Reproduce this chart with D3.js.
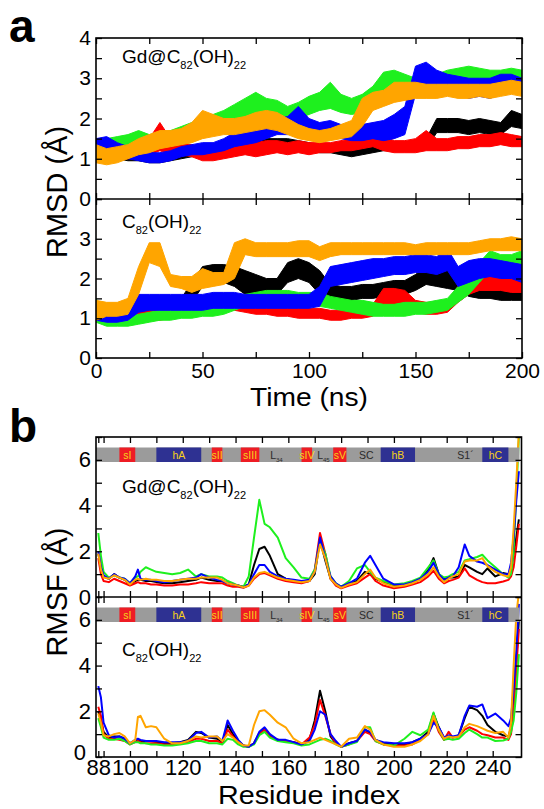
<!DOCTYPE html>
<html>
<head>
<meta charset="utf-8">
<script src="https://cdn.jsdelivr.net/npm/d3@7"></script>
<style>
body { margin: 0; background: #fff; }
text { font-family: "Liberation Sans", Arial, Helvetica, sans-serif; }
</style>
</head>
<body>
<div id="chart"></div>
<script>
// ---- panel a: RMSD traces, band [low, high] read every 5 ns ----
var times = [0,5,10,15,20,25,30,35,40,45,50,55,60,65,70,75,80,85,90,95,100,105,110,115,120,125,130,135,140,145,150,155,160,165,170,175,180,185,190,195,200];

var gdBlack = [[1.0,1.4],[1.0,1.35],[1.0,1.35],[0.95,1.3],[0.95,1.25],[0.9,1.15],[0.9,1.1],[0.95,1.15],[1.0,1.2],[1.05,1.25],[1.1,1.3],[1.15,1.35],[1.2,1.45],[1.25,1.5],[1.3,1.55],[1.3,1.55],[1.3,1.5],[1.3,1.5],[1.3,1.5],[1.25,1.45],[1.2,1.4],[1.15,1.35],[1.15,1.35],[1.1,1.3],[1.05,1.3],[1.1,1.35],[1.15,1.35],[1.2,1.4],[1.2,1.4],[1.2,1.4],[1.2,1.45],[1.25,1.5],[1.65,2.0],[1.65,2.0],[1.65,2.0],[1.6,1.95],[1.65,2.0],[1.6,1.95],[1.6,1.9],[1.8,2.2],[1.75,2.1]];
var gdRed = [[1.0,1.4],[0.95,1.3],[1.0,1.3],[1.0,1.35],[1.05,1.4],[1.1,1.5],[1.2,1.9],[1.1,1.5],[1.1,1.4],[1.05,1.35],[0.95,1.25],[0.95,1.3],[1.0,1.35],[1.05,1.4],[1.1,1.45],[1.05,1.4],[1.1,1.45],[1.15,1.45],[1.1,1.4],[1.15,1.45],[1.1,1.4],[1.15,1.4],[1.15,1.4],[1.2,1.45],[1.2,1.5],[1.25,1.55],[1.3,1.9],[1.2,1.55],[1.15,1.45],[1.15,1.45],[1.15,1.5],[1.2,1.7],[1.2,1.5],[1.2,1.5],[1.25,1.55],[1.25,1.55],[1.3,1.6],[1.3,1.6],[1.35,1.65],[1.3,1.6],[1.3,1.55]];
var gdGreen = [[1.1,1.5],[1.15,1.5],[1.2,1.55],[1.3,1.6],[1.35,1.7],[1.3,1.6],[1.35,1.65],[1.4,1.7],[1.45,1.8],[1.55,1.9],[1.6,2.0],[1.7,2.1],[1.8,2.2],[1.95,2.35],[2.05,2.5],[2.15,2.65],[2.0,2.5],[1.95,2.45],[1.9,2.3],[2.0,2.4],[2.1,2.55],[2.2,2.65],[2.25,2.9],[2.15,2.6],[2.1,2.5],[2.15,2.6],[2.3,2.8],[2.6,3.15],[2.7,3.2],[2.6,3.1],[2.55,3.0],[2.6,3.05],[2.65,3.1],[2.7,3.2],[2.75,3.25],[2.8,3.3],[2.75,3.25],[2.7,3.2],[2.7,3.2],[2.75,3.25],[2.8,3.2]];
var gdBlue = [[1.1,1.5],[1.2,1.55],[1.05,1.4],[1.0,1.3],[0.95,1.25],[0.9,1.15],[0.9,1.15],[0.95,1.2],[1.05,1.3],[1.1,1.35],[1.1,1.4],[1.15,1.4],[1.2,1.5],[1.3,1.65],[1.35,1.7],[1.4,1.75],[1.5,1.9],[1.6,2.0],[1.6,2.05],[1.75,2.3],[1.6,2.0],[1.5,1.9],[1.55,1.95],[1.5,1.85],[1.45,1.8],[1.45,1.85],[1.5,1.9],[1.45,1.95],[1.5,2.1],[1.6,2.3],[2.6,3.3],[2.7,3.4],[2.7,3.2],[2.6,3.1],[2.6,3.05],[2.5,3.0],[2.55,3.0],[2.5,3.0],[2.6,3.1],[2.7,3.1],[2.7,3.0]];
var gdOrange = [[0.9,1.35],[0.85,1.25],[0.9,1.3],[1.0,1.35],[1.1,1.5],[1.15,1.6],[1.25,1.7],[1.3,1.7],[1.35,1.75],[1.4,1.9],[1.5,2.2],[1.55,2.1],[1.6,2.0],[1.6,2.0],[1.65,2.05],[1.7,2.15],[1.75,2.2],[1.7,2.15],[1.6,2.0],[1.5,1.85],[1.45,1.75],[1.4,1.7],[1.45,1.75],[1.5,1.85],[1.55,1.95],[1.8,2.5],[2.2,2.65],[2.3,2.7],[2.4,2.9],[2.45,2.9],[2.5,2.9],[2.5,2.85],[2.5,2.85],[2.55,2.85],[2.5,2.85],[2.5,2.85],[2.55,2.85],[2.5,2.85],[2.55,2.9],[2.6,2.95],[2.55,2.9]];

var cBlack = [[1.0,1.4],[0.95,1.3],[0.95,1.25],[0.95,1.25],[1.0,1.3],[1.0,1.3],[1.0,1.3],[1.1,1.4],[1.2,1.5],[1.4,1.9],[1.8,2.3],[1.9,2.35],[1.9,2.35],[1.8,2.3],[1.6,2.2],[1.6,2.1],[1.55,2.0],[1.6,2.0],[1.9,2.4],[2.0,2.5],[1.9,2.4],[1.6,2.2],[1.5,1.85],[1.45,1.8],[1.45,1.8],[1.5,1.85],[1.5,1.85],[1.55,1.9],[1.6,1.95],[1.6,1.95],[1.7,2.1],[1.85,2.3],[1.8,2.25],[1.75,2.2],[1.7,2.1],[1.55,1.9],[1.5,1.8],[1.5,1.8],[1.45,1.75],[1.45,1.75],[1.45,1.75]];
var cRed = [[0.95,1.35],[0.9,1.25],[0.9,1.2],[0.9,1.2],[0.9,1.15],[0.95,1.2],[0.95,1.2],[1.0,1.25],[1.05,1.3],[1.1,1.4],[1.2,1.55],[1.2,1.5],[1.2,1.5],[1.2,1.55],[1.15,1.45],[1.1,1.4],[1.1,1.35],[1.05,1.3],[1.05,1.3],[1.0,1.3],[1.0,1.25],[1.0,1.25],[0.95,1.2],[0.95,1.2],[1.0,1.25],[1.0,1.25],[1.05,1.35],[1.35,1.75],[1.35,1.75],[1.3,1.7],[1.15,1.45],[1.1,1.4],[1.1,1.4],[1.15,1.45],[1.4,1.8],[1.6,2.0],[1.7,2.05],[1.7,2.1],[1.7,2.1],[1.65,2.0],[1.65,2.0]];
var cGreen = [[0.9,1.5],[0.8,1.05],[0.8,1.05],[0.8,1.05],[0.85,1.1],[0.9,1.15],[0.95,1.2],[0.95,1.2],[1.0,1.25],[1.0,1.25],[1.05,1.3],[1.05,1.35],[1.1,1.4],[1.2,1.5],[1.3,1.6],[1.3,1.65],[1.35,1.7],[1.35,1.7],[1.35,1.7],[1.3,1.65],[1.35,1.65],[1.3,1.65],[1.25,1.55],[1.2,1.5],[1.15,1.45],[1.1,1.45],[1.05,1.4],[1.05,1.35],[1.05,1.35],[1.05,1.4],[1.1,1.4],[1.1,1.4],[1.15,1.45],[1.2,1.5],[1.4,1.8],[1.6,2.0],[1.9,2.4],[2.2,2.7],[2.1,2.6],[2.1,2.6],[2.2,2.7]];
var cBlue = [[0.95,1.4],[0.9,1.25],[0.9,1.25],[0.95,1.3],[1.15,1.6],[1.2,1.6],[1.2,1.6],[1.2,1.6],[1.2,1.6],[1.2,1.6],[1.2,1.6],[1.25,1.65],[1.25,1.65],[1.25,1.65],[1.25,1.6],[1.25,1.6],[1.25,1.6],[1.25,1.6],[1.25,1.6],[1.25,1.6],[1.25,1.6],[1.3,1.8],[1.8,2.3],[1.85,2.35],[1.9,2.4],[1.95,2.45],[2.0,2.5],[2.05,2.5],[2.1,2.55],[2.1,2.55],[2.15,2.6],[2.15,2.6],[2.1,2.55],[2.2,2.75],[1.8,2.3],[1.9,2.45],[2.0,2.5],[2.05,2.5],[2.0,2.45],[2.0,2.4],[1.9,2.35]];
var cOrange = [[0.95,1.45],[1.05,1.4],[1.05,1.4],[1.1,1.5],[1.6,2.3],[2.4,2.9],[2.3,2.9],[1.8,2.1],[1.75,2.05],[1.65,2.05],[1.75,2.25],[1.8,2.15],[1.85,2.15],[2.0,2.9],[2.6,3.0],[2.55,2.9],[2.55,2.9],[2.55,2.9],[2.55,2.9],[2.55,2.95],[2.55,2.95],[2.45,2.8],[2.55,2.9],[2.6,2.9],[2.6,2.9],[2.6,2.9],[2.6,2.9],[2.6,2.9],[2.6,2.9],[2.6,2.9],[2.6,2.85],[2.6,2.9],[2.6,2.9],[2.6,2.9],[2.6,2.9],[2.6,2.9],[2.65,2.95],[2.7,3.0],[2.7,3.0],[2.7,3.05],[2.7,3.0]];

// ---- panel b: RMSF per residue ----
var residues = [88,89,90,92,94,96,98,100, 102,103,104,106,108,110, 113,116,119,122,125,127,130, 133,135,137,139,141,143,145, 147,149,151,153,156,159,162, 165,168,170,172,174,176,178, 180,183,186,189,191,193,196, 200,204,207,210,213,215,217, 219,221,223,226,229,231,234, 236,238,241,244,246,247,248, 249,250];

var gdRmsfBlack = [1.9,1.3,0.9,0.8,1.0,0.85,0.75,0.55, 0.7,0.75,0.75,0.7,0.7,0.65, 0.6,0.6,0.65,0.7,0.75,0.85,0.75, 0.7,0.7,0.6,0.55,0.5,0.45,0.55, 1.4,2.1,2.2,1.8,1.0,0.8,0.7, 0.65,0.7,1.0,2.5,1.6,0.8,0.55, 0.45,0.6,0.7,1.1,1.0,0.8,0.65, 0.5,0.55,0.65,0.8,1.2,1.7,1.0, 0.8,0.85,0.85,0.9,1.4,1.3,1.1, 1.0,1.25,0.9,1.05,1.0,1.2,1.9, 2.6,3.4];
var gdRmsfRed = [1.7,1.0,0.7,0.65,0.8,0.7,0.6,0.5, 0.6,0.65,0.6,0.6,0.55,0.55, 0.5,0.5,0.55,0.55,0.6,0.65,0.6, 0.6,0.6,0.5,0.45,0.45,0.4,0.5, 0.8,1.0,1.05,0.95,0.8,0.7,0.65, 0.6,0.7,1.2,2.8,1.9,0.8,0.5, 0.38,0.5,0.6,0.85,1.0,0.7,0.5, 0.38,0.45,0.55,0.65,0.9,1.15,0.8, 0.6,0.7,0.75,0.85,1.25,0.95,0.75, 0.65,0.6,0.6,0.68,0.75,0.9,1.3, 2.2,3.2];
var gdRmsfGreen = [2.8,1.8,1.1,0.85,0.95,0.85,0.8,0.6, 0.85,0.9,1.1,1.3,1.2,1.1, 1.05,1.0,1.05,1.2,0.9,1.0,0.9, 0.9,0.85,0.7,0.6,0.5,0.45,0.9, 2.6,4.25,3.2,3.05,2.6,1.7,1.3, 0.85,0.8,1.2,2.45,1.9,0.9,0.6, 0.45,0.7,1.25,1.4,1.1,0.85,0.7, 0.55,0.6,0.7,0.85,1.3,1.6,1.0, 0.85,0.9,1.0,1.1,1.6,1.65,1.75, 1.85,1.6,1.3,1.0,0.85,1.0,2.0, 4.5,7.0];
var gdRmsfBlue = [2.0,1.3,0.95,0.8,1.0,0.85,0.8,0.6, 0.9,1.2,0.8,0.75,0.75,0.7, 0.65,0.7,0.75,0.8,0.85,1.0,0.85, 0.75,0.7,0.6,0.55,0.5,0.42,0.55, 1.0,1.4,1.4,1.1,0.9,0.8,0.75, 0.7,0.75,1.1,2.6,1.7,0.9,0.6, 0.45,0.6,0.8,1.5,1.8,1.4,0.8, 0.55,0.55,0.65,0.8,1.1,1.5,1.0, 0.75,0.85,0.9,1.3,2.3,1.8,1.55, 1.5,1.4,1.2,1.0,1.0,1.5,2.6, 4.2,5.5];
var gdRmsfOrange = [1.9,1.2,0.85,0.8,0.95,0.85,0.75,0.55, 0.75,0.8,0.75,0.8,0.75,0.75, 0.7,0.7,0.75,0.8,0.8,0.85,0.85, 0.85,0.75,0.6,0.55,0.5,0.42,0.5, 0.85,1.05,1.1,1.0,0.85,0.75,0.7, 0.65,0.7,1.1,2.3,1.7,0.8,0.55, 0.4,0.55,0.65,1.0,1.2,0.85,0.6, 0.45,0.5,0.6,0.75,1.0,1.3,0.9, 0.65,0.8,0.9,1.0,1.55,1.6,1.6, 1.7,1.35,1.1,0.95,0.9,1.3,3.0, 5.0,7.2];

var cRmsfBlack = [2.0,1.6,1.1,0.85,0.9,0.9,0.8,0.6, 0.7,0.75,0.7,0.7,0.7,0.65, 0.6,0.6,0.65,0.75,1.1,1.05,0.85, 0.8,0.65,1.4,1.0,0.7,0.5,0.45, 0.6,1.05,1.25,0.95,0.75,0.7,0.65, 0.55,0.75,1.6,2.9,2.0,0.9,0.6, 0.45,0.6,0.7,1.2,1.05,0.75,0.6, 0.55,0.55,0.65,0.8,1.1,1.9,1.3, 0.8,0.9,0.85,0.95,1.7,2.2,2.05, 1.8,1.4,1.1,0.95,0.9,1.3,2.6, 4.2,6.0];
var cRmsfRed = [2.2,1.8,1.0,0.8,0.8,0.75,0.7,0.55, 0.65,0.7,0.65,0.6,0.6,0.6, 0.55,0.55,0.6,0.65,0.8,0.8,0.7, 0.7,0.6,1.2,0.9,0.65,0.5,0.45, 0.6,1.0,1.2,0.9,0.75,0.7,0.65, 0.55,0.85,1.4,2.5,1.8,1.0,0.6, 0.45,0.55,0.7,1.1,1.0,0.7,0.55, 0.5,0.5,0.55,0.75,1.0,1.7,1.1, 0.75,1.1,0.85,0.9,1.2,1.3,1.15, 1.0,0.95,0.85,0.85,0.75,1.0,2.0, 3.8,5.6];
var cRmsfGreen = [1.7,1.3,0.85,0.75,0.75,0.8,0.7,0.55, 0.65,0.65,0.6,0.6,0.55,0.55, 0.5,0.5,0.55,0.6,0.7,0.7,0.6, 0.6,0.55,0.8,0.75,0.55,0.45,0.45, 0.55,0.95,1.1,0.85,0.7,0.65,0.6, 0.5,0.55,0.65,0.75,0.8,0.7,0.55, 0.45,0.55,0.65,1.3,1.3,0.7,0.55, 0.5,0.8,1.1,0.95,1.2,1.95,1.2, 0.75,0.8,0.75,0.8,1.05,1.2,1.0, 0.85,0.85,0.7,0.72,0.8,1.1,1.6, 2.8,4.5];
var cRmsfBlue = [3.1,2.6,1.5,0.95,0.85,0.9,0.8,0.6, 0.75,0.8,0.75,0.7,0.7,0.7, 0.65,0.65,0.65,0.7,1.05,1.1,0.85, 0.9,0.7,1.6,1.15,0.75,0.5,0.45, 0.6,1.1,1.3,1.0,0.75,0.75,0.65, 0.55,0.7,1.2,2.0,1.85,1.0,0.7, 0.45,0.6,0.7,1.2,1.1,0.75,0.65, 0.6,0.6,0.65,0.8,1.0,1.5,1.3, 0.85,0.95,0.9,0.95,1.8,2.25,2.2, 2.3,1.7,1.9,1.6,1.35,1.7,3.0, 4.6,6.7];
var cRmsfOrange = [1.9,1.5,0.95,0.9,1.0,1.05,0.9,0.6, 0.75,1.75,1.8,1.3,1.35,1.3, 0.8,0.6,0.6,0.7,0.9,0.85,0.9, 0.9,0.7,1.0,0.85,0.65,0.5,0.5, 1.4,2.0,2.05,1.85,1.5,1.3,0.8, 0.6,0.65,0.75,0.85,0.75,0.65,0.55, 0.45,0.8,0.85,1.35,1.2,0.75,0.55, 0.45,0.45,0.55,0.7,1.0,1.8,1.2, 0.8,0.9,0.85,0.9,1.3,1.45,1.35, 1.25,1.15,1.05,1.1,0.85,1.5,4.0, 6.2,7.2];

// secondary structure along the sequence
var ssNames = ['sI', 'hA', 'sII', 'sIII', 'sIV', 'sV', 'hB', 'hC'];
var ssStart = [96, 110, 131, 142, 165, 177, 195, 236];
var ssEnd = [102, 127, 135, 149, 169, 182, 208, 246];
var ssKind = ['strand', 'helix', 'strand', 'strand', 'strand', 'strand', 'helix', 'helix'];
var loopNames = [['L', '34'], ['L', '45'], ['SC', ''], ['S1\u00b4', '']];
var loopAt = [155.5, 173.3, 189.5, 229.4];

// ticks
var timeTicks = [0,25,50,75,100,125,150,175,200];
var rmsdTicks = [0,0.5,1,1.5,2,2.5,3,3.5,4];
var resTicks = [88,90,100,110,120,130,140,150,160,170,180,190,200,210,220,230,240];
var resLabels = [88,100,120,140,160,180,200,220,240];
var rmsfTicks = [0,1,2,3,4,5,6,7];

var colors = ['#000000', '#ff0000', '#1ef01e', '#0000ff', '#ffa500'];
var FONT = '"Liberation Sans", Arial, Helvetica, sans-serif';

var svg = d3.select('#chart').append('svg')
    .attr('width', 544).attr('height', 809)
    .style('background', '#fff');

var xA = d3.scaleLinear().domain([0, 200]).range([96, 522]);
var yA1 = d3.scaleLinear().domain([0, 4]).range([199, 38]);
var yA2 = d3.scaleLinear().domain([0, 4]).range([358, 199]);

var xB = d3.scaleLinear().domain([87.13, 220, 230, 240, 251]).range([96, 446.7, 466.7, 492.7, 521.5]);
var yB1 = d3.scaleLinear().domain([0, 7]).range([597, 437]);
var yB2 = d3.scaleLinear().domain([0, 7]).range([757, 597]);

var clipN = 0;
function clipFor(x, y) {
    var id = 'clip' + (clipN++);
    svg.append('clipPath').attr('id', id).append('rect')
        .attr('x', x.range()[0]).attr('y', y.range()[1])
        .attr('width', x.range()[x.range().length - 1] - x.range()[0])
        .attr('height', y.range()[0] - y.range()[1]);
    return 'url(#' + id + ')';
}

function drawBands(seriesList, x, y) {
    var g = svg.append('g').attr('clip-path', clipFor(x, y));
    var area = d3.area()
        .x(function(d, i) { return x(times[i]); })
        .y0(function(d) { return y(d[0]); })
        .y1(function(d) { return y(d[1]); });
    seriesList.forEach(function(s, k) {
        g.append('path').datum(s)
            .attr('d', area)
            .attr('fill', colors[k])
            .attr('stroke', colors[k])
            .attr('stroke-width', 1);
    });
}

function drawLines(seriesList, x, y) {
    var g = svg.append('g').attr('clip-path', clipFor(x, y));
    var line = d3.line()
        .x(function(d, i) { return x(residues[i]); })
        .y(function(d) { return y(d); });
    seriesList.forEach(function(s, k) {
        g.append('path').datum(s)
            .attr('d', line)
            .attr('fill', 'none')
            .attr('stroke', colors[k])
            .attr('stroke-width', 2)
            .attr('stroke-linejoin', 'round');
    });
}

function addAxis(axis, tx, ty, fs) {
    var g = svg.append('g').attr('transform', 'translate(' + tx + ',' + ty + ')').call(axis);
    g.select('.domain').remove();
    g.attr('font-family', FONT).attr('font-size', fs);
    g.selectAll('.tick line').attr('stroke', '#000').attr('stroke-width', 1.3);
    g.selectAll('.tick text').attr('fill', '#000');
    return g;
}

function blank() { return ''; }

function frame(x, y, midY) {
    var x0 = x.range()[0], x1 = x.range()[x.range().length - 1];
    svg.append('rect')
        .attr('x', x0).attr('y', y)
        .attr('width', x1 - x0).attr('height', midY - y)
        .attr('fill', 'none').attr('stroke', '#000').attr('stroke-width', 1.6);
}

function formula(x, y, parts, fs, color) {
    var t = svg.append('text').attr('x', x).attr('y', y)
        .attr('font-size', fs).attr('fill', color || '#000');
    var shift = 0;
    parts.forEach(function(p) {
        if (!p[0]) return;
        var sub = p[1];
        var target = sub ? fs * 0.3 : 0;
        t.append('tspan')
            .attr('dy', target - shift)
            .attr('font-size', sub ? fs * 0.58 : fs)
            .text(p[0]);
        shift = target;
    });
    return t;
}

// ===== panel a =====
drawBands([gdBlack, gdRed, gdGreen, gdBlue, gdOrange], xA, yA1);
drawBands([cBlack, cRed, cGreen, cBlue, cOrange], xA, yA2);

addAxis(d3.axisLeft(yA1).tickValues(rmsdTicks).tickSize(-6).tickPadding(5)
    .tickFormat(function(d) { return d % 1 === 0 ? d : ''; }), 96, 0, 21);
addAxis(d3.axisRight(yA1).tickValues(rmsdTicks).tickSize(-6).tickFormat(blank), 522, 0, 21);
addAxis(d3.axisLeft(yA2).tickValues(rmsdTicks).tickSize(-6).tickPadding(5)
    .tickFormat(function(d) { return d % 1 === 0 && d < 4 ? d : ''; }), 96, 0, 21);
addAxis(d3.axisRight(yA2).tickValues(rmsdTicks).tickSize(-6).tickFormat(blank), 522, 0, 21);
addAxis(d3.axisTop(xA).tickValues(timeTicks).tickSize(-6).tickFormat(blank), 0, 38, 21);
addAxis(d3.axisBottom(xA).tickValues(timeTicks).tickSize(-6).tickFormat(blank), 0, 199, 21);
addAxis(d3.axisTop(xA).tickValues(timeTicks).tickSize(-6).tickFormat(blank), 0, 199, 21);
addAxis(d3.axisBottom(xA).tickValues(timeTicks).tickSize(-6).tickPadding(5)
    .tickFormat(function(d) { return d % 50 === 0 ? d : ''; }), 0, 358, 21);

frame(xA, 38, 358);
svg.append('line').attr('x1', 96).attr('x2', 522).attr('y1', 199).attr('y2', 199)
    .attr('stroke', '#000').attr('stroke-width', 1.6);

formula(122, 63, [['Gd@C', 0], ['82', 1], ['(OH)', 0], ['22', 1]], 19);
formula(122, 228, [['C', 0], ['82', 1], ['(OH)', 0], ['22', 1]], 19);

svg.append('text').attr('transform', 'translate(67,192) rotate(-90)')
    .attr('text-anchor', 'middle').attr('font-size', 29).text('RMSD (\u00c5)');
svg.append('text').attr('x', 309).attr('y', 406)
    .attr('text-anchor', 'middle').attr('font-size', 26)
    .attr('textLength', 118).attr('lengthAdjust', 'spacingAndGlyphs')
    .text('Time (ns)');
svg.append('text').attr('x', 9).attr('y', 42)
    .attr('font-size', 46).attr('font-weight', 'bold').text('a');

// ===== panel b =====
function ssBar(y) {
    var top = y.range()[1] + 10.5, h = 14.5;
    var x0 = xB.range()[0], x1 = xB.range()[xB.range().length - 1];
    var g = svg.append('g');
    g.append('rect').attr('x', x0).attr('y', top).attr('width', x1 - x0 - 2).attr('height', h)
        .attr('fill', '#9b9b9b');
    ssNames.forEach(function(name, i) {
        var a = xB(ssStart[i]), b = xB(ssEnd[i]);
        g.append('rect').attr('x', a).attr('y', top).attr('width', b - a).attr('height', h)
            .attr('fill', ssKind[i] === 'helix' ? '#2e3192' : '#ee1c24');
        g.append('text').attr('x', (a + b) / 2).attr('y', top + h / 2 + 4)
            .attr('text-anchor', 'middle').attr('font-size', 10.5)
            .attr('fill', '#f6d31a').text(name);
    });
    loopNames.forEach(function(p, i) {
        var t = formula(xB(loopAt[i]), top + h / 2 + 4, [[p[0], 0], [p[1], 1]], 10.5, '#2a2a2a');
        t.attr('text-anchor', 'middle');
    });
}

drawLines([gdRmsfBlack, gdRmsfRed, gdRmsfGreen, gdRmsfBlue, gdRmsfOrange], xB, yB1);
drawLines([cRmsfBlack, cRmsfRed, cRmsfGreen, cRmsfBlue, cRmsfOrange], xB, yB2);
ssBar(yB1);
ssBar(yB2);

var xbR = xB.range()[xB.range().length - 1];
addAxis(d3.axisLeft(yB1).tickValues(rmsfTicks).tickSize(-6).tickPadding(5)
    .tickFormat(function(d) { return d % 2 === 0 ? d : ''; }), 96, 0, 22);
addAxis(d3.axisRight(yB1).tickValues(rmsfTicks).tickSize(-6).tickFormat(blank), xbR, 0, 22);
var lowLeft = addAxis(d3.axisLeft(yB2).tickValues(rmsfTicks).tickSize(-6).tickPadding(5)
    .tickFormat(function(d) { return d % 2 === 0 ? d : ''; }), 96, 0, 22);
// nudge the bottom "0" so it clears the "88" next to it
lowLeft.selectAll('.tick text').filter(function(d) { return d === 0; })
    .attr('x', -10).attr('dy', '0.12em');
addAxis(d3.axisRight(yB2).tickValues(rmsfTicks).tickSize(-6).tickFormat(blank), xbR, 0, 22);
addAxis(d3.axisTop(xB).tickValues(resTicks).tickSize(-6).tickFormat(blank), 0, 437, 22);
addAxis(d3.axisBottom(xB).tickValues(resTicks).tickSize(-6).tickFormat(blank), 0, 597, 22);
addAxis(d3.axisTop(xB).tickValues(resTicks).tickSize(-6).tickFormat(blank), 0, 597, 22);
addAxis(d3.axisBottom(xB).tickValues(resTicks).tickSize(-6).tickPadding(2)
    .tickFormat(function(d) { return resLabels.indexOf(d) >= 0 ? d : ''; }), 0, 757, 22);

frame(xB, 437, 757);
svg.append('line').attr('x1', 96).attr('x2', xbR).attr('y1', 597).attr('y2', 597)
    .attr('stroke', '#000').attr('stroke-width', 1.6);

formula(122, 493, [['Gd@C', 0], ['82', 1], ['(OH)', 0], ['22', 1]], 19);
formula(122, 656, [['C', 0], ['82', 1], ['(OH)', 0], ['22', 1]], 19);

svg.append('text').attr('transform', 'translate(67,592) rotate(-90)')
    .attr('text-anchor', 'middle').attr('font-size', 29).text('RMSF (\u00c5)');
svg.append('text').attr('x', 309).attr('y', 803.5)
    .attr('text-anchor', 'middle').attr('font-size', 26)
    .attr('textLength', 182).attr('lengthAdjust', 'spacingAndGlyphs')
    .text('Residue index');
svg.append('text').attr('x', 9).attr('y', 442)
    .attr('font-size', 46).attr('font-weight', 'bold').text('b');
</script>
</body>
</html>
